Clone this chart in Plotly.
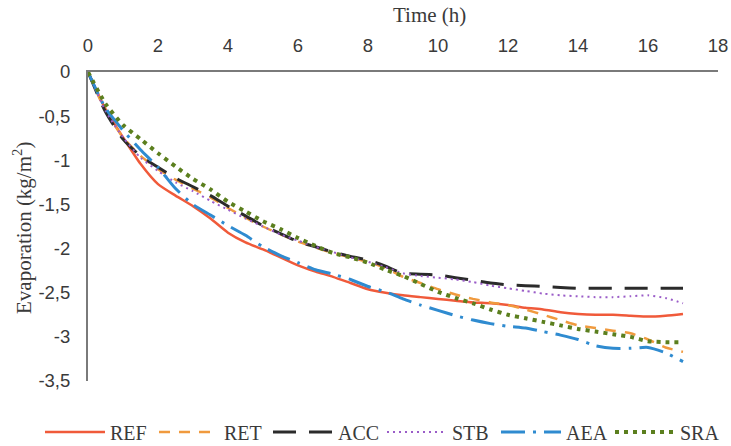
import plotly.graph_objects as go

# Time axis (hours), half-hour steps
time_h = [0, 0.5, 1, 1.5, 2, 2.5, 3, 3.5, 4, 4.5, 5, 5.5, 6, 6.5, 7, 7.5, 8, 8.5,
          9, 9.5, 10, 10.5, 11, 11.5, 12, 12.5, 13, 13.5, 14, 14.5, 15, 15.5, 16, 16.5, 17]

# Cumulative evaporation (kg/m2) for each mix
ref = [0, -0.42, -0.74, -1.04, -1.27, -1.40, -1.52, -1.66, -1.82, -1.93, -2.01, -2.10,
       -2.19, -2.26, -2.32, -2.39, -2.46, -2.50, -2.53, -2.55, -2.57, -2.59, -2.61, -2.62,
       -2.64, -2.67, -2.69, -2.72, -2.74, -2.75, -2.75, -2.76, -2.77, -2.76, -2.74]
ret = [0, -0.44, -0.74, -0.95, -1.10, -1.22, -1.32, -1.42, -1.54, -1.65, -1.75, -1.84,
       -1.92, -1.99, -2.05, -2.10, -2.15, -2.22, -2.32, -2.39, -2.46, -2.52, -2.57, -2.61,
       -2.64, -2.69, -2.75, -2.81, -2.87, -2.90, -2.93, -2.96, -3.03, -3.12, -3.17]
acc = [0, -0.45, -0.76, -0.95, -1.08, -1.20, -1.30, -1.40, -1.52, -1.63, -1.74, -1.83,
       -1.92, -1.98, -2.04, -2.09, -2.13, -2.20, -2.28, -2.29, -2.30, -2.33, -2.36, -2.39,
       -2.41, -2.42, -2.43, -2.44, -2.45, -2.45, -2.45, -2.45, -2.45, -2.45, -2.45]
stb = [0, -0.44, -0.74, -0.97, -1.12, -1.25, -1.35, -1.46, -1.56, -1.66, -1.75, -1.84,
       -1.91, -1.98, -2.04, -2.10, -2.15, -2.21, -2.28, -2.31, -2.33, -2.35, -2.38, -2.42,
       -2.45, -2.48, -2.51, -2.53, -2.54, -2.55, -2.55, -2.54, -2.53, -2.56, -2.62]
aea = [0, -0.41, -0.66, -0.88, -1.08, -1.32, -1.50, -1.62, -1.74, -1.85, -1.98, -2.08,
       -2.16, -2.24, -2.29, -2.35, -2.43, -2.49, -2.57, -2.64, -2.70, -2.76, -2.81, -2.85,
       -2.88, -2.90, -2.94, -2.98, -3.03, -3.10, -3.13, -3.13, -3.12, -3.18, -3.28]
sra = [0, -0.36, -0.60, -0.76, -0.92, -1.07, -1.21, -1.33, -1.47, -1.58, -1.69, -1.78,
       -1.88, -1.97, -2.05, -2.10, -2.16, -2.24, -2.31, -2.40, -2.49, -2.56, -2.62, -2.69,
       -2.75, -2.79, -2.83, -2.87, -2.91, -2.94, -2.97, -3.00, -3.05, -3.06, -3.06]

x_ticks = [0, 2, 4, 6, 8, 10, 12, 14, 16, 18]
y_ticks = [0, -0.5, -1, -1.5, -2, -2.5, -3, -3.5]
y_tick_text = ["0", "-0,5", "-1", "-1,5", "-2", "-2,5", "-3", "-3,5"]

series = [
    ("REF", ref, "#F05A3A", "solid", 2.5),
    ("RET", ret, "#F09A3E", "11px,9px", 2.5),
    ("ACC", acc, "#2B2B2B", "23px,13px", 3),
    ("STB", stb, "#9A5CC8", "2px,4px", 2),
    ("AEA", aea, "#2F8BD0", "24px,8px,3px,8px", 3),
    ("SRA", sra, "#5B7F1E", "4px,5px", 4),
]

fig = go.Figure()
for name, vals, color, dash, width in series:
    fig.add_trace(go.Scatter(
        x=time_h, y=vals, name=name, mode="lines",
        line=dict(color=color, dash=dash, width=width, shape="spline", smoothing=0.6),
    ))

text_color = "#3a3a3a"
tick_font = dict(family="Liberation Sans Narrow, Liberation Sans, sans-serif", size=18.5, color=text_color)
serif = "Liberation Serif, Times New Roman, serif"

fig.update_layout(
    width=731, height=446,
    margin=dict(l=88, r=13, t=72, b=65, autoexpand=False),
    paper_bgcolor="white", plot_bgcolor="white",
    showlegend=True,
    legend=dict(
        orientation="h", x=-0.0762, xanchor="left", y=-0.165, yanchor="middle",
        font=dict(family=serif, size=20, color=text_color),
        itemwidth=60,
        entrywidth=39, entrywidthmode="pixels",
        bgcolor="rgba(0,0,0,0)",
    ),
    xaxis=dict(
        range=[0, 18], side="top", tickvals=x_ticks,
        showline=True, linecolor="#7a7a7a", linewidth=2,
        showgrid=False, zeroline=False, ticks="",
        tickfont=tick_font, ticklabelstandoff=11,
    ),
    yaxis=dict(
        range=[-3.5, 0], tickvals=y_ticks, ticktext=y_tick_text,
        showline=True, linecolor="#7a7a7a", linewidth=2,
        showgrid=False, zeroline=False, ticks="",
        tickfont=tick_font, ticklabelstandoff=12,
    ),
    annotations=[
        dict(text="Time (h)", xref="paper", yref="paper",
             x=(429 - 88) / 630, y=1 + (72 - 15) / 309,
             xanchor="center", yanchor="middle", showarrow=False,
             font=dict(family=serif, size=21, color=text_color)),
        dict(text="Evaporation (kg/m<sup>2</sup>)", xref="paper", yref="paper",
             x=(22 - 88) / 630, y=(381 - 228) / 309, textangle=-90,
             xanchor="center", yanchor="middle", showarrow=False,
             font=dict(family=serif, size=21, color=text_color)),
    ],
)

fig.write_html("out.html")
